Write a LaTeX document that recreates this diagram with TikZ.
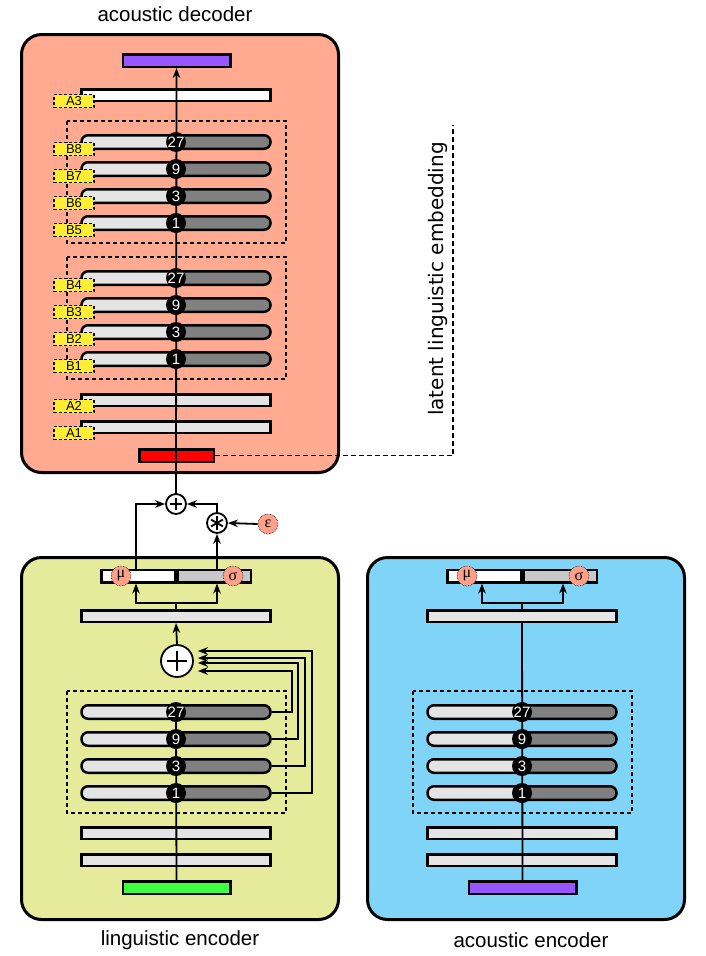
\documentclass[tikz,border=0pt]{standalone}
\usepackage{fontspec}
\setmainfont{Liberation Sans}
\newfontfamily\dejavu{DejaVu Sans}
\newfontfamily\greekfont{Liberation Serif}
\usetikzlibrary{arrows.meta, positioning, calc}
\definecolor{decoder}{HTML}{FFAA91}
\definecolor{lingenc}{HTML}{E5EB9B}
\definecolor{acouenc}{HTML}{80D4F8}
\definecolor{tagyellow}{HTML}{FFEE33}
\definecolor{lightbar}{HTML}{E4E4E4}
\definecolor{darkbar}{HTML}{808080}
\definecolor{sigmagrey}{HTML}{C8C8C8}
\definecolor{purplebar}{HTML}{9955FF}
\definecolor{redbar}{HTML}{FF0000}
\definecolor{greenbar}{HTML}{40FF40}
\definecolor{gauss}{HTML}{FFA08A}

\begin{document}
\begin{tikzpicture}[x=1pt, y=-1pt,
    block/.style={draw, line width=3pt, rounded corners=20pt, minimum width=317pt, inner sep=0pt},
    title/.style={font=\fontsize{20.5}{20.5}\selectfont},
    layer/.style={draw, line width=2.5pt, fill=lightbar, minimum width=189pt,
                  minimum height=11.5pt, inner sep=0pt},
    dilated/.style={layer, fill=darkbar, rounded corners=6.5pt, minimum height=13.5pt,
                    path picture={\fill[lightbar] (path picture bounding box.south west)
                                  rectangle (path picture bounding box.north);}},
    io/.style={draw, line width=2.5pt, minimum width=107.5pt, minimum height=12.5pt, inner sep=0pt},
    half/.style={draw, line width=2.5pt, minimum width=73.5pt, minimum height=12.5pt, inner sep=0pt},
    rate/.style={circle, fill=black, text=white, minimum size=20pt, inner sep=0pt,
                 font=\fontsize{15}{15}\selectfont},
    tag/.style={draw, dash pattern=on 3pt off 2pt, line width=1.2pt, fill=tagyellow, minimum width=40pt,
                minimum height=13pt, inner sep=0pt, font=\fontsize{13}{13}\selectfont},
    group/.style={draw, dash pattern=on 4pt off 3pt, line width=1.3pt},
    gaussian/.style={circle, draw, densely dotted, line width=0.6pt, fill=gauss, minimum size=20pt,
                     inner sep=0pt, font=\greekfont\fontsize{16}{16}\selectfont},
    op/.style={draw, circle, fill=white, line width=1.8pt, inner sep=0pt},
    sum/.style={op, minimum size=#1,
                path picture={\draw[line width=1.8pt]
                    ([xshift={-0.32*#1}]path picture bounding box.center) -- ([xshift={0.32*#1}]path picture bounding box.center)
                    ([yshift={-0.32*#1}]path picture bounding box.center) -- ([yshift={0.32*#1}]path picture bounding box.center);}},
    prod/.style={op, minimum size=#1,
                 path picture={\foreach \a in {90,30,150}
                     \draw[line width=1.8pt] ([shift={(\a:0.34*#1)}]path picture bounding box.center)
                         -- ([shift={(\a+180:0.34*#1)}]path picture bounding box.center);}},
    wire/.style={line width=1.8pt},
    arrow/.style={-{Stealth[length=10pt, width=7.5pt]}, line width=1.8pt},
]
    \useasboundingbox (0,0) rectangle (706,956);

    % three blocks
    \node[block, fill=decoder, minimum height=438pt] (dec)  at (180,253.5) {};
    \node[block, fill=lingenc, minimum height=362pt] (ling) at (180,738.5) {};
    \node[block, fill=acouenc, minimum height=362pt] (acou) at (526,738.5) {};
    \node[title] (dectitle)  at (175,14)  {acoustic decoder};
    \node[title] (lingtitle) at (180,940) {linguistic encoder};
    \node[title] (acoutitle) at (531,940) {acoustic encoder};

    % decoder
    \draw[group] (67,121) rectangle (286,243);
    \draw[group] (67,257) rectangle (286,379);
    \node[io, fill=purplebar] (dout) at (176.5,60.5) {};
    \node[layer, fill=white] (a3) at (176,95) {};
    \foreach \y/\b in {142/8, 169/7, 196/6, 223/5, 278/4, 305/3, 332/2, 359/1}
        \node[dilated] (b\b) at (176,\y) {};
    \node[layer] (a2) at (176,400) {};
    \node[layer] (a1) at (176,427) {};
    \node[io, fill=redbar, minimum width=74.5pt] (latent) at (176.5,455.5) {};

    \node[sum=20pt]  (dplus) at (176,504) {};
    \node[prod=20pt] (star)  at (217,523) {};
    \node[gaussian]  (eps)   at (268,524) {ε};

    \draw[arrow] (dplus.north) -- (dout.south);
    \foreach \y/\b/\r in {142/8/27, 169/7/9, 196/6/3, 223/5/1, 278/4/27, 305/3/9, 332/2/3, 359/1/1} {
        \node[rate] (rb\b) at (176,\y) {\r};
        \node[tag] (tb\b) at (74,\y+7) {B\b};
    }
    \node[tag] (ta3) at (74,101) {A3};
    \node[tag] (ta2) at (74,406) {A2};
    \node[tag] (ta1) at (74,433) {A1};

    \coordinate (embtop) at (453,125);
    \draw[dash pattern=on 4.5pt off 3.5pt, line width=1.5pt] (latent.east) -| (embtop);
    \node[rotate=90, font=\dejavu\fontsize{20}{20}\selectfont] (embtext) at (438,279) {latent linguistic embedding};

    % encoders
    \foreach \e/\dx/\src/\top in {ling/0/greenbar/d27, acou/346/purplebar/pre.south} {
        \draw[group] (67+\dx,691) rectangle (286+\dx,813);
        \node[half, fill=white]     (\e-mubar)  at (138+\dx,576) {};
        \node[half, fill=sigmagrey] (\e-sigbar) at (214+\dx,576) {};
        \node[gaussian] (\e-mu)    at (121+\dx,576) {μ};
        \node[gaussian] (\e-sigma) at (233+\dx,576) {σ};
        \node[layer] (\e-pre) at (176+\dx,616) {};
        \coordinate (\e-split) at (176+\dx,603);
        \draw[wire] (\e-pre.north) -- (\e-split);
        \draw[arrow] (\e-split) -| ($(\e-mubar.south)+(-2,0)$);
        \draw[arrow] (\e-split) -| ($(\e-sigbar.south)+(3,0)$);
        \foreach \y/\r in {712/27, 739/9, 766/3, 793/1}
            \node[dilated] (\e-d\r) at (176+\dx,\y) {};
        \node[layer] (\e-l2) at (176+\dx,833) {};
        \node[layer] (\e-l1) at (176+\dx,860) {};
        \node[io, fill=\src] (\e-in) at (176.5+\dx,887.5) {};
        \draw[wire] (\e-in.north) -- (\e-\top);
        \foreach \y/\r in {712/27, 739/9, 766/3, 793/1}
            \node[rate] (\e-r\r) at (176+\dx,\y) {\r};
    }

    % skip sum in the linguistic encoder
    \node[sum=32pt] (lsum) at (177,661) {};
    \draw[arrow] (lsum.north) -- (ling-pre.south);
    \foreach \r/\gap/\dy in {27/20/10, 9/26/2, 3/33/-3, 1/40/-10}
        \draw[arrow] (ling-d\r.east) -- ++(\gap,0) |- ($(lsum.east)+(4,\dy)$);

    % sampling
    \draw[arrow] ($(ling-mubar.north)+(-2,0)$) |- (dplus.west);
    \draw[arrow] (star |- ling-sigbar.north) -- (star.south);
    \draw[arrow] (star.north) |- (dplus.east);
    \draw[arrow] (eps.west) -- (star.east);
\end{tikzpicture}
\end{document}
